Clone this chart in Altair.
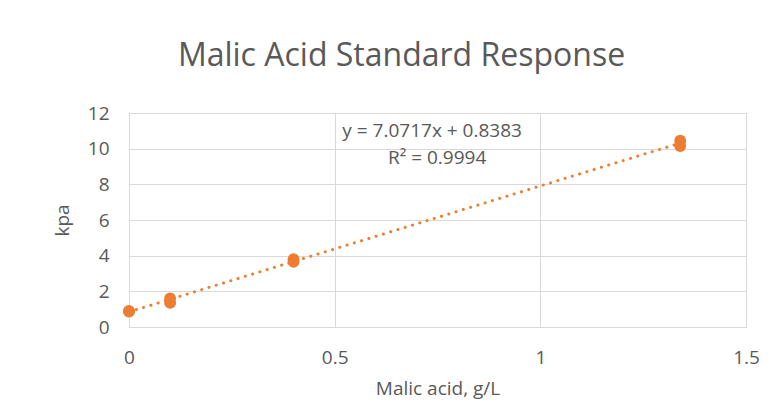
import altair as alt
import pandas as pd

# Data
conc = [0.0, 0.0, 0.1, 0.1, 0.4, 0.4, 1.34, 1.34]
kpa = [0.86, 0.9, 1.35, 1.6, 3.65, 3.8, 10.45, 10.15]

eq_text = ["y = 7.0717x + 0.8383", "R² = 0.9994"]
eq_x = [0.737, 0.749]
eq_y = [10.98, 9.47]

x_ticks = [0, 0.5, 1, 1.5]
y_ticks = [0, 2, 4, 6, 8, 10, 12]

df = pd.DataFrame({"conc": conc, "kpa": kpa})
eq_df = pd.DataFrame({"text": eq_text, "x": eq_x, "y": eq_y})

ORANGE = "#ED7D31"
GRID = "#D9D9D9"
TXT = "#595959"
FONT = "Open Sans"
FS = 19

xscale = alt.Scale(domain=[0, 1.5], nice=False, zero=False)
yscale = alt.Scale(domain=[0, 12], nice=False)

xaxis = alt.Axis(values=x_ticks, title="Malic acid, g/L", labelExpr="format(datum.value, '~g')",
                 grid=True, gridColor=GRID, domainColor=GRID, ticks=False,
                 labelPadding=21, titlePadding=12, labelFontSize=FS, titleFontSize=FS,
                 labelColor=TXT, titleColor=TXT, labelFont=FONT, titleFont=FONT,
                 titleFontWeight="normal", labelFlush=False, labelOverlap=False)
yaxis = alt.Axis(values=y_ticks, title="kpa",
                 grid=True, gridColor=GRID, domainColor=GRID, ticks=False,
                 labelPadding=20, titlePadding=15, labelFontSize=FS, titleFontSize=FS,
                 labelColor=TXT, titleColor=TXT, labelFont=FONT, titleFont=FONT,
                 titleFontWeight="normal", labelFlush=False, labelOverlap=False)

X = alt.X("conc:Q", scale=xscale, axis=xaxis)
Y = alt.Y("kpa:Q", scale=yscale, axis=yaxis)

base = alt.Chart(df)

trend = base.transform_regression("conc", "kpa").mark_line(
    color=ORANGE, strokeWidth=3, strokeCap="round", strokeDash=[0.1, 7.5]
).encode(x=X, y=Y)

pts = base.mark_circle(color=ORANGE, opacity=1, size=140).encode(x=X, y=Y)

eq = alt.Chart(eq_df).mark_text(
    font=FONT, fontSize=FS, color=TXT, align="center", baseline="middle"
).encode(
    x=alt.X("x:Q", scale=xscale, axis=xaxis),
    y=alt.Y("y:Q", scale=yscale, axis=yaxis),
    text="text:N",
)

chart = alt.layer(trend, pts, eq).properties(
    width=617,
    height=214,
    autosize=alt.AutoSizeParams(type="none"),
    padding={"left": 121, "top": 105, "right": 16, "bottom": 84},
    title=alt.TitleParams("Malic Acid Standard Response", font=FONT, fontSize=32,
                          fontWeight="normal", color=TXT, offset=31, dx=-36),
).configure_view(stroke=None).configure(background="white")

chart.save("out.html", embed_options={"renderer": "svg", "actions": False})
